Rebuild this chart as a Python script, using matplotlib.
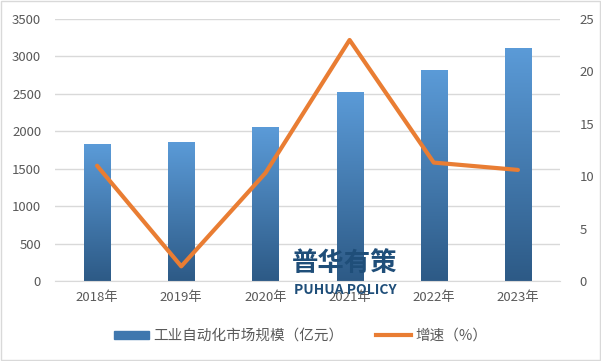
import numpy as np
import matplotlib.pyplot as plt
from matplotlib.colors import LinearSegmentedColormap
from matplotlib.patches import Rectangle
from matplotlib.lines import Line2D

plt.rcParams['font.family'] = ['Noto Sans CJK SC', 'DejaVu Sans']

# data
years = ['2018年', '2019年', '2020年', '2021年', '2022年', '2023年']
market = [1830, 1857, 2057, 2525, 2819, 3113]
growth = [11.0, 1.4, 10.3, 23.0, 11.3, 10.6]

bar_cmap = LinearSegmentedColormap.from_list('bar', ['#2d5a86', '#5b9bd8'])
grey = '#595959'

fig = plt.figure(figsize=(6.01, 3.61), dpi=100)
ax = fig.add_axes([55 / 601, 80 / 361, 505 / 601, 262 / 361])
ax2 = ax.twinx()

x = np.arange(len(years))
bars = ax.bar(x, market, width=0.31, color='none', zorder=2)
grad = np.linspace(0, 1, 256).reshape(-1, 1)
for b in bars:
    x0, w, h = b.get_x(), b.get_width(), b.get_height()
    im = ax.imshow(grad, cmap=bar_cmap, origin='lower', aspect='auto',
                   extent=[x0, x0 + w, 0, h], zorder=2)
    im.set_clip_path(b)

ax2.plot(x, growth, color='#e97d33', linewidth=3, solid_capstyle='round', zorder=3)

ax.set_xlim(-0.5, len(years) - 0.5)
ax.set_ylim(0, 3500)
ax2.set_ylim(0, 25)
ax.set_yticks(range(0, 3501, 500))
ax2.set_yticks(range(0, 26, 5))
ax.set_xticks(x)
ax.set_xticklabels(years)
ax.grid(axis='y', color='#d9d9d9', linewidth=1)
ax.set_axisbelow(True)
for a in (ax, ax2):
    for s in a.spines.values():
        s.set_visible(False)
    a.tick_params(length=0, labelsize=9.5, labelcolor=grey)
ax.spines['bottom'].set_visible(True)
ax.spines['bottom'].set_color('#d9d9d9')
ax.tick_params(axis='y', pad=10)
ax.tick_params(axis='x', pad=7)
ax2.tick_params(axis='y', pad=14)

# watermark
fig.text(345 / 601, 1 - 263 / 361, '普华有策', fontsize=19, fontweight='heavy',
         color='#1f4e79', ha='center', va='center', zorder=5)
fig.text(345 / 601, 1 - 290 / 361, 'PUHUA POLICY', fontsize=10, fontweight='bold',
         color='#1f4e79', ha='center', va='center', zorder=5)

# legend
handles = [Rectangle((0, 0), 1, 1, color='#3f77ae'),
           Line2D([0], [0], color='#e97d33', linewidth=3)]
fig.legend(handles, ['工业自动化市场规模（亿元）', '增速（%）'], loc='center',
           bbox_to_anchor=(0.5, 1 - 336 / 361), ncol=2, frameon=False,
           fontsize=10.5, labelcolor=grey, handlelength=2.4, handleheight=0.5,
           columnspacing=2.2, handletextpad=0.3)

# border
fig.add_artist(Rectangle((0.002, 0.003), 0.996, 0.994, transform=fig.transFigure,
                         fill=False, edgecolor='#d9d9d9', linewidth=1))

fig.savefig('out.png', dpi=100)
